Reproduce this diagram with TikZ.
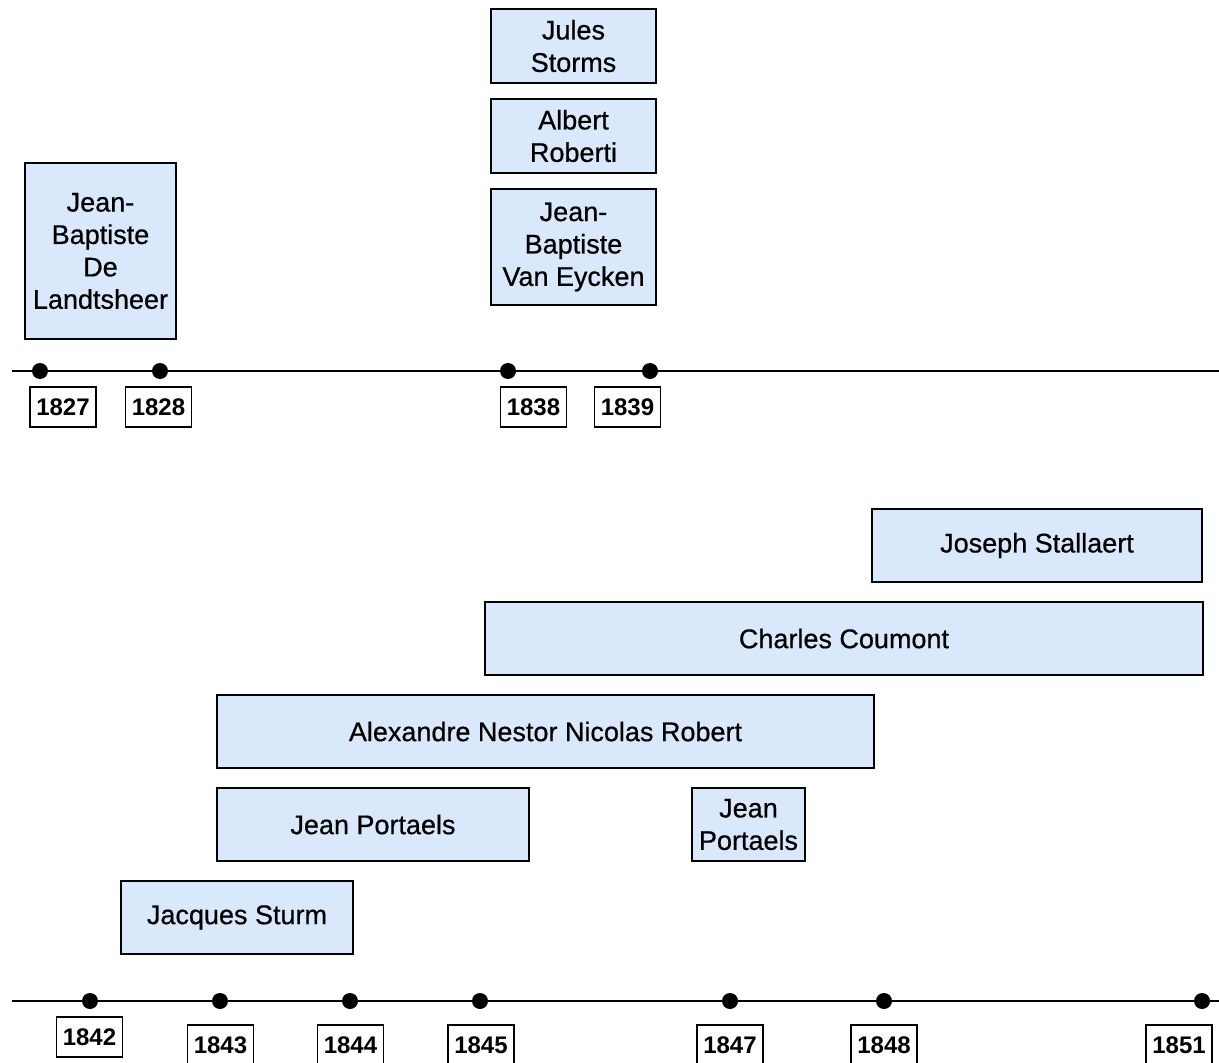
\documentclass[tikz,border=0pt]{standalone}
\usepackage{fontspec}
\setmainfont{Liberation Sans}
\newfontfamily\namefont[FakeBold=0.6]{Liberation Sans}
\definecolor{barblue}{HTML}{DAE8FC}
\begin{document}
\begin{tikzpicture}
  [x=1pt,y=-1pt,
   person/.style={draw, fill=barblue, line width=1.8pt, inner sep=0pt, align=center,
     font=\namefont\fontsize{27}{32.4}\selectfont},
   year/.style={draw, line width=1.8pt, inner sep=0pt, minimum width=66, minimum height=40,
     font=\fontsize{24}{28}\selectfont\bfseries},
   dot/.style={circle, fill=black, inner sep=0pt, minimum size=16},
   axis/.style={line width=2pt}]
  \useasboundingbox (0,0) rectangle (1219,1063);

  % upper time line
  \coordinate (upperleft) at (12,371);
  \coordinate (upperright) at (1219,371);
  \draw[axis] (upperleft) -- (upperright);
  \node[dot] (d1827) at (40,371) {};
  \node[dot] (d1828) at (160,371) {};
  \node[dot] (d1838) at (508,371) {};
  \node[dot] (d1839) at (650,371) {};
  \node[year] (y1827) at (63,407) {1827};
  \node[year] (y1828) at (158.5,407) {1828};
  \node[year] (y1838) at (533.5,407) {1838};
  \node[year] (y1839) at (627.5,407) {1839};

  \node[person, minimum width=151, minimum height=176] (landtsheer) at (100.5,251)
    {Jean-\\Baptiste\\De\\Landtsheer};
  \node[person, minimum width=165, minimum height=74] (storms) at (573.5,46) {Jules\\Storms};
  \node[person, minimum width=165, minimum height=74] (roberti) at (573.5,136) {Albert\\Roberti};
  \node[person, minimum width=165, minimum height=116] (vaneycken) at (573.5,247)
    {Jean-\\Baptiste\\Van Eycken};

  % lower time line
  \coordinate (lowerleft) at (12,1001);
  \coordinate (lowerright) at (1219,1001);
  \draw[axis] (lowerleft) -- (lowerright);
  \node[dot] (d1842) at (90,1001) {};
  \node[dot] (d1843) at (220,1001) {};
  \node[dot] (d1844) at (350,1001) {};
  \node[dot] (d1845) at (480,1001) {};
  \node[dot] (d1847) at (730,1001) {};
  \node[dot] (d1848) at (884,1001) {};
  \node[dot] (d1851) at (1202,1001) {};
  \node[year] (y1842) at (89.5,1037) {1842};
  \node[year] (y1843) at (220.5,1045) {1843};
  \node[year] (y1844) at (350.5,1045) {1844};
  \node[year] (y1845) at (481,1045) {1845};
  \node[year] (y1847) at (730,1045) {1847};
  \node[year] (y1848) at (884,1045) {1848};
  \node[year] (y1851) at (1179,1045) {1851};

  \node[person, minimum width=330, minimum height=73] (stallaert) at (1037,545.5) {Joseph Stallaert};
  \node[person, minimum width=718, minimum height=73] (coumont) at (844,638.5) {Charles Coumont};
  \node[person, minimum width=657, minimum height=73] (robert) at (545.5,731.5)
    {Alexandre Nestor Nicolas Robert};
  \node[person, minimum width=312, minimum height=73] (portaels) at (373,824.5) {Jean Portaels};
  \node[person, minimum width=113, minimum height=73] (portaelsbis) at (748.5,824.5) {Jean\\Portaels};
  \node[person, minimum width=232, minimum height=73] (sturm) at (237,917.5) {Jacques Sturm};
\end{tikzpicture}
\end{document}
